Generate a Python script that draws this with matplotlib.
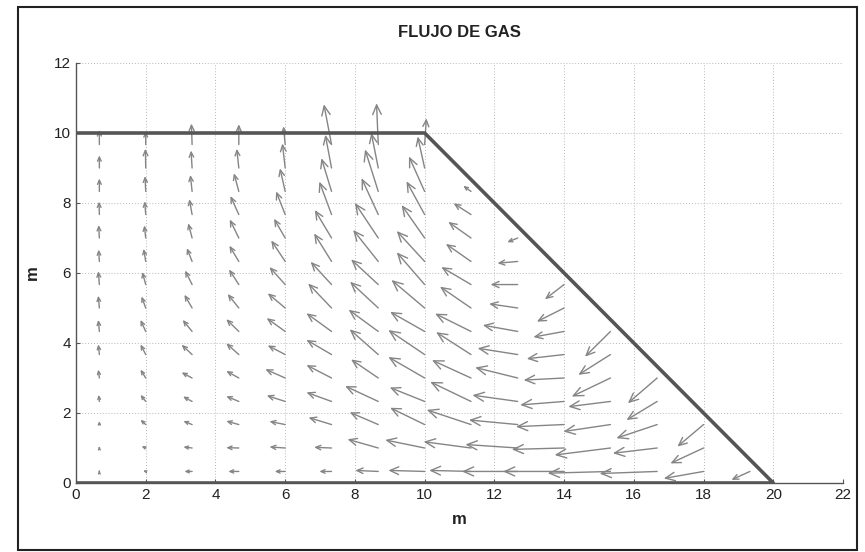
import numpy as np
import matplotlib
matplotlib.use("Agg")
import matplotlib.pyplot as plt
from matplotlib.patches import Rectangle

# arrow tails: one column of the mesh per entry, rows from the bottom up
col_x = [0.67, 2.0, 3.33, 4.67, 6.0, 7.33, 8.67, 10.0, 11.33, 12.67, 14.0, 15.33, 16.67, 18.0, 19.33]
row_y = [0.33, 1.0, 1.67, 2.33, 3.0, 3.67, 4.33, 5.0, 5.67, 6.33, 7.0, 7.67, 8.33, 9.0, 9.67]

# velocity components (bottom row first)
u_cols = [
    [0.0, 0.0, 0.0, -0.02, -0.03, -0.03, -0.03, -0.03, -0.03, -0.02, -0.02, -0.01, 0.0, 0.0, 0.0],
    [-0.08, -0.12, -0.15, -0.15, -0.15, -0.15, -0.15, -0.12, -0.1, -0.06, -0.04, -0.03, -0.02, -0.01, 0.0],
    [-0.22, -0.25, -0.25, -0.26, -0.3, -0.3, -0.27, -0.22, -0.2, -0.15, -0.11, -0.08, -0.05, -0.03, -0.02],
    [-0.3, -0.36, -0.36, -0.36, -0.36, -0.36, -0.36, -0.32, -0.28, -0.27, -0.26, -0.24, -0.14, -0.06, 0.0],
    [-0.3, -0.45, -0.45, -0.53, -0.57, -0.5, -0.53, -0.5, -0.45, -0.4, -0.32, -0.26, -0.15, -0.08, -0.05],
    [-0.35, -0.5, -0.66, -0.72, -0.72, -0.72, -0.72, -0.67, -0.6, -0.5, -0.48, -0.35, -0.29, -0.18, -0.22],
    [-0.66, -0.88, -0.82, -0.95, -0.78, -0.82, -0.85, -0.81, -0.78, -0.72, -0.67, -0.48, -0.38, -0.2, -0.05],
    [-1.04, -1.13, -0.99, -1.0, -1.04, -1.04, -0.99, -0.95, -0.8, -0.8, -0.66, -0.52, -0.45, -0.2, 0.05],
    [-1.2, -1.36, -1.27, -1.17, -1.12, -1.0, -1.03, -0.89, -0.85, -0.72, -0.65, -0.5, -0.22],
    [-1.6, -1.5, -1.4, -1.3, -1.22, -1.15, -1.0, -0.82, -0.78, -0.58, -0.3],
    [-1.75, -1.5, -1.38, -1.26, -1.16, -1.07, -0.88, -0.78, -0.55],
    [-1.8, -1.6, -1.35, -1.21, -1.11, -0.92, -0.73],
    [-1.65, -1.27, -1.17, -0.88, -0.84],
    [-1.14, -0.95, -0.75],
    [-0.53],
]
v_cols = [
    [0.03, 0.05, 0.1, 0.19, 0.24, 0.29, 0.33, 0.35, 0.38, 0.34, 0.37, 0.37, 0.37, 0.36, 0.42],
    [0.02, 0.05, 0.14, 0.19, 0.24, 0.29, 0.33, 0.33, 0.36, 0.36, 0.36, 0.38, 0.44, 0.55, 0.38],
    [0.0, 0.03, 0.1, 0.14, 0.16, 0.28, 0.33, 0.38, 0.4, 0.38, 0.42, 0.44, 0.47, 0.5, 0.6],
    [0.0, 0.01, 0.1, 0.15, 0.2, 0.32, 0.35, 0.4, 0.43, 0.45, 0.53, 0.53, 0.52, 0.55, 0.58],
    [0.0, 0.03, 0.09, 0.17, 0.25, 0.26, 0.38, 0.42, 0.5, 0.6, 0.55, 0.66, 0.66, 0.7, 0.52],
    [0.0, 0.02, 0.2, 0.26, 0.37, 0.42, 0.52, 0.7, 0.65, 0.8, 0.8, 0.94, 0.95, 0.95, 1.15],
    [0.03, 0.25, 0.35, 0.44, 0.53, 0.72, 0.62, 0.75, 0.72, 0.9, 1.0, 1.04, 1.2, 1.0, 1.18],
    [0.03, 0.23, 0.48, 0.4, 0.6, 0.7, 0.56, 0.8, 0.92, 0.87, 0.94, 0.95, 1.0, 0.9, 0.75],
    [0.03, 0.18, 0.42, 0.56, 0.51, 0.64, 0.51, 0.61, 0.5, 0.5, 0.46, 0.32, 0.16],
    [0.0, 0.1, 0.13, 0.18, 0.3, 0.18, 0.18, 0.12, 0.0, -0.05, -0.12],
    [0.0, -0.04, -0.06, -0.1, -0.06, -0.12, -0.16, -0.39, -0.42],
    [-0.05, -0.2, -0.2, -0.15, -0.53, -0.58, -0.72],
    [-0.06, -0.15, -0.39, -0.53, -0.72],
    [-0.2, -0.44, -0.63],
    [-0.24],
]

# reservoir outline
outline_x = [0, 10, 20, 0]
outline_y = [10, 10, 0, 0]

x_ticks = list(range(0, 23, 2))
y_ticks = list(range(0, 13, 2))

plt.rcParams['font.family'] = ['Liberation Sans', 'DejaVu Sans']

fig = plt.figure(figsize=(8.65, 5.52), dpi=100)
ax = fig.add_axes([76 / 865, 69 / 552, 767 / 865, 420 / 552])

# outer frame around the whole figure
fig.patches.append(Rectangle((18 / 865, 0.003), 839 / 865, 1 - 7 / 552 - 0.003,
                             transform=fig.transFigure, fill=False,
                             edgecolor='#222222', lw=1.5))

ax.set_xlim(0, 22)
ax.set_ylim(0, 12)
ax.set_xticks(x_ticks)
ax.set_yticks(y_ticks)
ax.grid(True, color='#b8b8b8', linestyle=(0, (1, 2)), lw=0.7)
ax.set_axisbelow(True)

for side in ['top', 'right']:
    ax.spines[side].set_visible(False)
for side in ['left', 'bottom']:
    ax.spines[side].set_color('#555555')
    ax.spines[side].set_linewidth(1.0)
ax.tick_params(direction='in', length=3, color='#555555', labelsize=11,
               labelcolor='#222222')

# flow arrows, MATLAB style open heads
for cx, us, vs in zip(col_x, u_cols, v_cols):
    for ry, u, v in zip(row_y, us, vs):
        L = np.hypot(u, v)
        if L < 0.02:
            continue
        ms = min(18, 3 + 12 * L)
        ax.annotate('', xy=(cx + u, ry + v), xytext=(cx, ry),
                    arrowprops=dict(arrowstyle='->,head_length=0.4,head_width=0.18',
                                    color='#858585', lw=1.0, mutation_scale=ms,
                                    shrinkA=0, shrinkB=0),
                    annotation_clip=False)

ax.plot(outline_x, outline_y, color='#555555', lw=2.6, solid_capstyle='butt', zorder=5)

ax.set_title('FLUJO DE GAS', fontsize=12, fontweight='bold', color='#222222', pad=19)
ax.set_xlabel('m', fontsize=12, fontweight='bold', color='#222222', labelpad=7)
ax.set_ylabel('m', fontsize=12, fontweight='bold', color='#222222', labelpad=10)

fig.savefig('out.png', dpi=100)
